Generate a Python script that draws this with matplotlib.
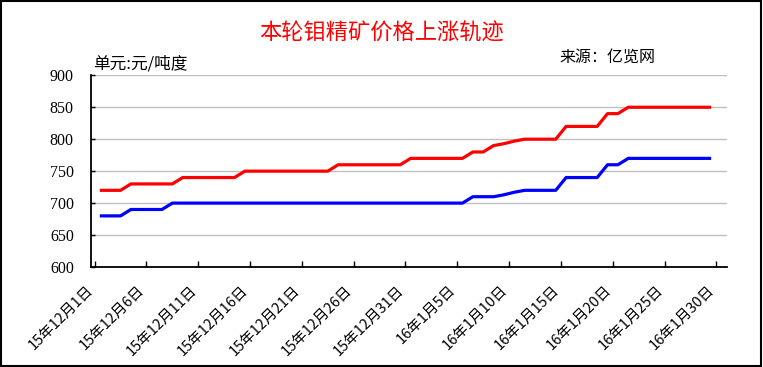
import matplotlib
matplotlib.use('Agg')
import matplotlib.pyplot as plt
from matplotlib.patches import Rectangle

plt.rcParams['font.family'] = ['Noto Sans CJK SC', 'DejaVu Sans']

# daily prices, 2015-12-01 onwards (one value per day)
red_prices = [720, 720, 720, 730, 730, 730, 730, 730, 740, 740,
              740, 740, 740, 740, 750, 750, 750, 750, 750, 750,
              750, 750, 750, 760, 760, 760, 760, 760, 760, 760,
              770, 770, 770, 770, 770, 770, 780, 780, 790, 793,
              797, 800, 800, 800, 800, 820, 820, 820, 820, 840,
              840, 850, 850, 850, 850, 850, 850, 850, 850, 850]
blue_prices = [680, 680, 680, 690, 690, 690, 690, 700, 700, 700,
               700, 700, 700, 700, 700, 700, 700, 700, 700, 700,
               700, 700, 700, 700, 700, 700, 700, 700, 700, 700,
               700, 700, 700, 700, 700, 700, 710, 710, 710, 713,
               717, 720, 720, 720, 720, 740, 740, 740, 740, 760,
               760, 770, 770, 770, 770, 770, 770, 770, 770, 770]
n_days = 61
date_labels = ['15年12月1日', '15年12月6日', '15年12月11日', '15年12月16日',
               '15年12月21日', '15年12月26日', '15年12月31日', '16年1月5日',
               '16年1月10日', '16年1月15日', '16年1月20日', '16年1月25日',
               '16年1月30日']
yticks = [600, 650, 700, 750, 800, 850, 900]

W, H = 763, 367
fig = plt.figure(figsize=(W / 100, H / 100), dpi=100)
fig.patch.set_facecolor('white')
ax = fig.add_axes([90.5 / W, (H - 267) / H, (726.7 - 90.5) / W, (267 - 75.3) / H])

x = list(range(len(red_prices)))
ax.plot(x, red_prices, color='#FF0000', lw=2.3, solid_capstyle='butt', zorder=3)
ax.plot(x, blue_prices, color='#0000FF', lw=2.3, solid_capstyle='butt', zorder=3)

ax.set_xlim(-0.5, n_days - 0.5)
ax.set_ylim(600, 900)
ax.set_yticks(yticks)
ax.set_yticklabels([str(v) for v in yticks], family='Liberation Serif', fontsize=11.5)
ax.yaxis.grid(True, color='#C0C0C0', lw=1)
ax.set_axisbelow(True)

# ticks between categories, labels every 5 days (nudged left like excel does)
ax.set_xticks([i - 0.5 for i in range(0, n_days, 5)])
ax.set_xticks([i - 0.9 for i in range(0, n_days, 5)], minor=True)
ax.set_xticklabels([])
ax.set_xticklabels(date_labels, minor=True, rotation=45, ha='right', va='center',
                   rotation_mode='anchor', fontsize=10.5)
ax.tick_params(axis='x', which='major', direction='in', length=4, width=1)
ax.tick_params(axis='x', which='minor', length=0, pad=15)
ax.tick_params(axis='y', direction='in', length=3, width=1, pad=12)

for side in ['top', 'right']:
    ax.spines[side].set_visible(False)
for side in ['left', 'bottom']:
    ax.spines[side].set_color('black')
    ax.spines[side].set_linewidth(1.3)

fig.text(381 / W, 1 - 33 / H, '本轮钼精矿价格上涨轨迹', color='#FF0000',
         fontsize=16, ha='center', va='center', fontweight='medium')
fig.text(93 / W, 1 - 64 / H, '单元:元/吨度', fontsize=12, ha='left', va='center')
fig.text(559 / W, 1 - 57 / H, '来源：亿览网', fontsize=11.5, ha='left', va='center')

fig.patches.append(Rectangle((0.001, 0.002), 0.997, 0.996, transform=fig.transFigure,
                             fill=False, edgecolor='black', lw=1.5))

fig.savefig('out.png', dpi=100)
